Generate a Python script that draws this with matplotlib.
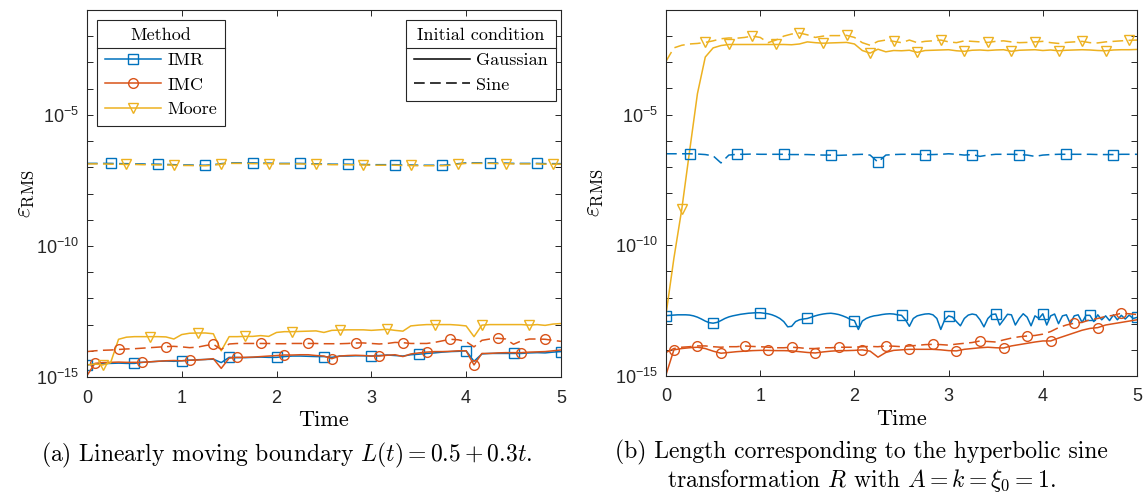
import numpy as np
import matplotlib
matplotlib.use("Agg")
import matplotlib.pyplot as plt
from matplotlib.lines import Line2D
from matplotlib.ticker import FixedLocator, FixedFormatter

plt.rcParams["font.family"] = ["Liberation Sans", "DejaVu Sans"]
plt.rcParams["mathtext.fontset"] = "custom"
plt.rcParams["mathtext.rm"] = "Liberation Sans"
plt.rcParams["mathtext.it"] = "Liberation Sans:italic"
plt.rcParams["mathtext.bf"] = "Liberation Sans:bold"

# time grids (markers every 0.5 time units)
t12 = np.arange(61) / 12.0
t24 = np.arange(121) / 24.0

# log10 of RMS error
# (a) linearly moving boundary
a_imr_gauss = [-14.54, -14.50, -14.49, -14.48, -14.47, -14.48, -14.48, -14.44, -14.42, -14.40, -14.39, -14.40, -14.38,
               -14.36, -14.34, -14.33, -14.32, -14.45, -14.25, -14.26, -14.26, -14.25, -14.24, -14.25, -14.25,
               -14.22, -14.20, -14.20, -14.21, -14.22, -14.22, -14.25, -14.20, -14.20, -14.19, -14.19, -14.20,
               -14.18, -14.16, -14.18, -14.20, -14.15, -14.13, -14.10, -14.08, -14.05, -14.03, -14.02, -14.00,
               -14.40, -14.12, -14.10, -14.10, -14.10, -14.10, -14.10, -14.08, -14.07, -14.08, -14.05, -14.03]
a_imc_gauss = [-14.95, -14.48, -14.45, -14.44, -14.43, -14.44, -14.44, -14.44, -14.42, -14.40, -14.38, -14.37, -14.38,
               -14.36, -14.35, -14.33, -14.30, -14.67, -14.28, -14.25, -14.25, -14.24, -14.22, -14.20, -14.18,
               -14.16, -14.16, -14.15, -14.15, -14.18, -14.20, -14.30, -14.20, -14.18, -14.17, -14.18, -14.20,
               -14.20, -14.17, -14.15, -14.22, -14.12, -14.08, -14.05, -14.03, -14.03, -14.02, -14.00, -14.00,
               -14.54, -14.10, -14.10, -14.08, -14.07, -14.07, -14.07, -14.05, -14.04, -14.03, -14.00, -13.97]
a_moore_gauss = [-14.54, -14.50, -14.54, -14.45, -13.56, -13.48, -13.46, -13.46, -13.46, -13.46, -13.47, -13.55, -13.38,
                 -13.33, -13.32, -13.32, -13.35, -14.00, -13.46, -13.46, -13.45, -13.45, -13.42, -13.45, -13.30,
                 -13.27, -13.27, -13.26, -13.25, -13.24, -13.30, -13.22, -13.21, -13.20, -13.20, -13.20, -13.22,
                 -13.20, -13.18, -13.22, -13.25, -13.05, -13.02, -13.00, -13.00, -13.00, -13.00, -13.02, -13.05,
                 -13.46, -13.02, -13.00, -13.00, -13.00, -13.00, -13.00, -13.02, -13.00, -13.03, -12.98, -12.96]
a_imr_sine = [-6.85, -6.85, -6.85, -6.85, -6.86, -6.86, -6.87, -6.87, -6.88, -6.88, -6.89, -6.90, -6.91,
              -6.91, -6.92, -6.92, -6.90, -6.86, -6.83, -6.83, -6.83, -6.83, -6.84, -6.84, -6.85,
              -6.85, -6.85, -6.85, -6.86, -6.87, -6.87, -6.88, -6.88, -6.88, -6.89, -6.89, -6.90,
              -6.90, -6.90, -6.90, -6.91, -6.91, -6.92, -6.92, -6.92, -6.92, -6.90, -6.86, -6.83,
              -6.83, -6.83, -6.83, -6.84, -6.84, -6.85, -6.85, -6.85, -6.85, -6.86, -6.86, -6.86]
a_imc_sine = [-14.03, -14.00, -13.98, -13.97, -13.95, -13.93, -13.92, -13.90, -13.88, -13.86, -13.84, -13.83, -13.85,
              -13.88, -13.86, -13.80, -13.75, -13.95, -13.74, -13.72, -13.72, -13.72, -13.72, -13.72, -13.73,
              -13.73, -13.72, -13.72, -13.72, -13.72, -13.73, -13.73, -13.73, -13.72, -13.70, -13.70, -13.72,
              -13.74, -13.72, -13.68, -13.69, -13.72, -13.72, -13.72, -13.68, -13.62, -13.56, -13.58, -13.65,
              -13.85, -13.60, -13.55, -13.52, -13.55, -13.75, -13.62, -13.55, -13.55, -13.56, -13.60, -13.64]
a_moore_sine = [-6.87, -6.87, -6.87, -6.88, -6.88, -6.89, -6.89, -6.90, -6.90, -6.91, -6.91, -6.92, -6.93,
                -6.93, -6.94, -6.94, -6.92, -6.88, -6.85, -6.85, -6.85, -6.86, -6.86, -6.86, -6.87,
                -6.87, -6.87, -6.87, -6.88, -6.89, -6.89, -6.90, -6.90, -6.90, -6.91, -6.91, -6.92,
                -6.92, -6.92, -6.92, -6.93, -6.93, -6.94, -6.94, -6.94, -6.94, -6.92, -6.88, -6.85,
                -6.85, -6.85, -6.85, -6.86, -6.86, -6.87, -6.87, -6.87, -6.87, -6.88, -6.88, -6.88]

# (b) hyperbolic sine transformation
b_imr_gauss = [-12.69, -12.68, -12.67, -12.66, -12.66, -12.66, -12.67, -12.70, -12.75, -12.82, -12.90, -12.96, -12.98,
               -12.95, -12.88, -12.80, -12.74, -12.70, -12.67, -12.64, -12.62, -12.60, -12.59, -12.58, -12.58,
               -12.60, -12.62, -12.66, -12.72, -12.80, -12.92, -13.12, -13.10, -12.92, -12.85, -12.82, -12.80,
               -12.75, -12.70, -12.66, -12.63, -12.61, -12.60, -12.62, -12.65, -12.70, -12.76, -12.84, -12.88,
               -13.22, -12.90, -12.80, -12.74, -12.70, -12.68, -12.65, -12.63, -12.62, -12.63, -12.66, -12.68,
               -12.85, -13.10, -12.80, -12.70, -12.66, -12.63, -12.62, -12.66, -12.80, -13.22, -12.85, -12.70,
               -12.75, -12.92, -13.08, -12.80, -12.67, -12.63, -12.66, -12.85, -13.12, -12.80, -12.65, -12.63,
               -13.05, -12.85, -12.64, -12.66, -13.05, -12.80, -12.62, -12.75, -13.08, -12.70, -12.80, -12.62,
               -13.05, -12.70, -12.63, -13.00, -12.70, -12.66, -13.00, -12.70, -12.66, -12.95, -12.68, -12.68,
               -12.92, -12.66, -12.85, -12.70, -12.88, -12.66, -12.85, -12.68, -12.82, -12.67, -12.80, -12.76]
b_imc_gauss = [-14.95, -14.00, -13.95, -13.92, -13.90, -13.95, -14.05, -14.13, -14.10, -14.07, -14.05, -14.03, -14.02,
               -14.02, -14.03, -14.03, -14.04, -14.07, -14.10, -14.12, -14.08, -14.05, -14.03, -14.03, -14.02,
               -14.00, -14.05, -14.28, -14.10, -14.02, -14.00, -13.98, -13.98, -13.98, -13.98, -14.00, -14.03,
               -14.04, -13.98, -13.95, -13.92, -13.90, -13.92, -13.93, -13.85, -13.80, -13.75, -13.70, -13.66,
               -13.66, -13.55, -13.45, -13.35, -13.25, -13.18, -13.15, -13.05, -13.00, -12.95, -12.90, -12.85]
b_moore_gauss = [-12.64, -10.50, -8.63, -6.40, -4.20, -2.80, -2.45, -2.36, -2.32, -2.32, -2.32, -2.32, -2.32,
                 -2.32, -2.32, -2.32, -2.33, -2.30, -2.22, -2.25, -2.27, -2.26, -2.25, -2.24, -2.30,
                 -2.55, -2.65, -2.50, -2.60, -2.55, -2.56, -2.54, -2.62, -2.55, -2.54, -2.53, -2.52,
                 -2.56, -2.58, -2.54, -2.53, -2.55, -2.53, -2.52, -2.58, -2.54, -2.53, -2.52, -2.55,
                 -2.53, -2.56, -2.54, -2.53, -2.52, -2.53, -2.55, -2.56, -2.53, -2.52, -2.52, -2.51]
b_imr_sine = [-6.50, -6.50, -6.50, -6.50, -6.51, -6.53, -6.58, -6.85, -6.55, -6.52, -6.52, -6.51, -6.52,
              -6.52, -6.52, -6.52, -6.53, -6.53, -6.53, -6.54, -6.55, -6.55, -6.56, -6.55, -6.53,
              -6.52, -6.55, -6.82, -6.55, -6.53, -6.52, -6.52, -6.52, -6.53, -6.53, -6.52, -6.50,
              -6.52, -6.55, -6.53, -6.60, -6.55, -6.52, -6.52, -6.52, -6.53, -6.55, -6.60, -6.55,
              -6.53, -6.52, -6.52, -6.52, -6.52, -6.52, -6.53, -6.53, -6.53, -6.52, -6.52, -6.52]
b_imc_sine = [-14.10, -13.95, -13.90, -13.88, -13.85, -13.85, -13.88, -13.90, -13.88, -13.88, -13.85, -13.87, -13.88,
              -13.90, -13.92, -13.92, -13.90, -13.92, -13.95, -13.95, -13.92, -13.92, -13.90, -13.90, -13.90,
              -13.88, -13.87, -13.88, -13.85, -13.86, -13.88, -13.85, -13.83, -13.80, -13.79, -13.80, -13.82,
              -13.78, -13.75, -13.72, -13.66, -13.68, -13.70, -13.62, -13.55, -13.50, -13.47, -13.45, -13.40,
              -13.30, -13.15, -13.05, -12.98, -12.95, -12.85, -12.80, -12.72, -12.68, -12.60, -12.62, -12.65]
b_moore_sine = [-2.96, -2.45, -2.35, -2.30, -2.28, -2.24, -2.18, -2.10, -2.07, -2.08, -2.05, -2.00, -2.05,
                -2.25, -2.15, -2.00, -1.92, -1.88, -1.95, -2.05, -2.00, -1.98, -1.98, -1.97, -2.05,
                -2.25, -2.35, -2.20, -2.15, -2.20, -2.25, -2.15, -2.25, -2.20, -2.18, -2.15, -2.22,
                -2.25, -2.18, -2.20, -2.22, -2.24, -2.20, -2.18, -2.22, -2.25, -2.24, -2.22, -2.20,
                -2.25, -2.28, -2.24, -2.22, -2.20, -2.25, -2.26, -2.22, -2.20, -2.18, -2.16, -2.15]

methods = ["IMR", "IMC", "Moore"]
colors = ["#0072BD", "#D95319", "#EDB120"]
markers = ["s", "o", "v"]
yticks = [10.0 ** e for e in range(-15, 0)]
ylabels = ["$10^{-%d}$" % -e if e in (-15, -10, -5) else "" for e in range(-15, 0)]

panels = [
    [(t12, a_imr_gauss), (t12, a_imc_gauss), (t12, a_moore_gauss),
     (t12, a_imr_sine), (t12, a_imc_sine), (t12, a_moore_sine)],
    [(t24, b_imr_gauss), (t12, b_imc_gauss), (t12, b_moore_gauss),
     (t12, b_imr_sine), (t12, b_imc_sine), (t12, b_moore_sine)],
]

CM = dict(family="cmr10", math_fontfamily="cm")
DASH = (0, (7, 3.5))

fig = plt.figure(figsize=(11.44, 4.92), dpi=100)
ax_a = fig.add_axes([0.0760, 0.2337, 0.4143, 0.7459])
ax_b = fig.add_axes([0.5822, 0.2358, 0.4117, 0.7439])

for ax, series, ylx in zip([ax_a, ax_b], panels, [-0.108, -0.13]):
    for i, (t, y) in enumerate(series):
        m = i % 3
        step = 12 if len(t) > 61 else 6
        start = i * step // 6
        ax.plot(t, 10.0 ** np.array(y), color=colors[m], lw=1.1,
                ls="-" if i < 3 else DASH,
                marker=markers[m], markevery=(start, step), ms=7,
                mfc="none", mec=colors[m], mew=1.0)
    ax.set_yscale("log")
    ax.set_xlim(0, 5)
    ax.set_ylim(1e-15, 1e-1)
    ax.set_xticks(range(6))
    ax.yaxis.set_major_locator(FixedLocator(yticks))
    ax.yaxis.set_major_formatter(FixedFormatter(ylabels))
    ax.yaxis.set_minor_locator(FixedLocator([]))
    ax.tick_params(direction="in", top=True, right=True, length=4, width=0.7,
                   labelsize=13, color="0.15", labelcolor="0.15", pad=6)
    ax.tick_params(axis="x", pad=9)
    for s in ax.spines.values():
        s.set_linewidth(0.8)
        s.set_color("0.15")
    ax.set_xlabel("Time", fontsize=16, labelpad=3, **CM)
    ax.set_ylabel(r"$\varepsilon_{\mathrm{RMS}}$", fontsize=17, **CM)
    ax.yaxis.set_label_coords(ylx, 0.5)

# legends
method_handles = [Line2D([], [], color=c, marker=mk, ms=7, mfc="none", mew=1.0, lw=1.1)
                  for c, mk in zip(colors, markers)]
ic_handles = [Line2D([], [], color="k", lw=1.1), Line2D([], [], color="k", lw=1.1, ls=DASH)]
leg_kw = dict(frameon=True, fancybox=False, framealpha=1, edgecolor="0.15",
              prop=dict(family="cmr10", size=13), title_fontproperties=dict(family="cmr10", size=13),
              handlelength=3.1, handletextpad=0.35, labelspacing=0.5, borderaxespad=0,
              borderpad=0.45)
leg1 = ax_a.legend(method_handles, methods, title="Method", loc="upper left",
                   bbox_to_anchor=(0.021, 0.973), **leg_kw)
ax_a.add_artist(leg1)
leg2 = ax_a.legend(ic_handles, ["Gaussian", "Sine"], title="Initial condition", loc="upper right",
                   bbox_to_anchor=(0.9895, 0.973), **leg_kw)
for leg in (leg1, leg2):
    leg.get_frame().set_linewidth(0.8)

fig.canvas.draw()
r = fig.canvas.get_renderer()
inv = fig.transFigure.inverted()
for leg in (leg1, leg2):
    box = leg.get_frame().get_window_extent(r)
    tb = leg.get_title().get_window_extent(r)
    fb = leg.get_texts()[0].get_window_extent(r)
    ysep = (tb.y0 + fb.y1) / 2
    (x0, y0), (x1, _) = inv.transform([(box.x0, ysep), (box.x1, ysep)])
    fig.add_artist(Line2D([x0, x1], [y0, y0], color="0.15", lw=0.8))

# captions
fig.text(287 / 1144, 1 - 455 / 492, r"(a) Linearly moving boundary $L(t) = 0.5 + 0.3t$.",
         ha="center", va="center", fontsize=17, **CM)
fig.text(861 / 1144, 1 - 467 / 492,
         "(b) Length corresponding to the hyperbolic sine\n"
         r"transformation $R$ with $A = k = \xi_0 = 1$.",
         ha="center", va="center", multialignment="center", linespacing=1.08,
         fontsize=17, **CM)

fig.savefig("out.png", dpi=100)
